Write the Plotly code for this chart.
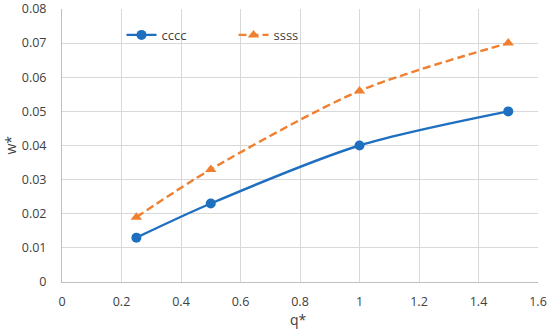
import plotly.graph_objects as go

q = [0.25, 0.5, 1.0, 1.5]
cccc = [0.013, 0.023, 0.040, 0.050]
ssss = [0.019, 0.033, 0.056, 0.070]
x_ticks = [0, 0.2, 0.4, 0.6, 0.8, 1, 1.2, 1.4, 1.6]
x_labels = ["0", "0.2", "0.4", "0.6", "0.8", "1", "1.2", "1.4", "1.6"]
y_ticks = [0, 0.01, 0.02, 0.03, 0.04, 0.05, 0.06, 0.07, 0.08]
y_labels = ["0", "0.01", "0.02", "0.03", "0.04", "0.05", "0.06", "0.07", "0.08"]

fig = go.Figure()
fig.add_trace(go.Scatter(
    x=q, y=cccc, name="cccc", mode="lines+markers",
    line=dict(color="#1f6fc0", width=2.4, shape="spline", smoothing=0.8),
    marker=dict(symbol="circle", size=10, color="#1f6fc0"),
))
fig.add_trace(go.Scatter(
    x=q, y=ssss, name="ssss", mode="lines+markers",
    line=dict(color="#f07f30", width=2.4, dash="8px,4px", shape="spline", smoothing=0.8),
    marker=dict(symbol="triangle-up", size=10, color="#f07f30"),
))

fig.update_layout(
    width=550, height=330,
    margin=dict(l=62, r=12, t=9, b=48, autoexpand=False),
    paper_bgcolor="white", plot_bgcolor="white",
    hovermode=False,
    font=dict(family="Open Sans, Liberation Sans, sans-serif", size=12.5, color="#404040"),
    showlegend=True,
    legend=dict(orientation="h", x=0.125, y=0.905, xanchor="left", yanchor="middle",
                bgcolor="rgba(0,0,0,0)", font=dict(size=13, color="#404040"),
                entrywidth=67, entrywidthmode="pixels", tracegroupgap=0),
    xaxis=dict(range=[0, 1.6], tickvals=x_ticks, ticktext=x_labels,
               showgrid=True, gridcolor="#d9d9d9", gridwidth=1,
               showline=True, linecolor="#bfbfbf", linewidth=1,
               zeroline=False, ticks="", ticklabelstandoff=8, automargin=False),
    yaxis=dict(range=[0, 0.08], tickvals=y_ticks, ticktext=y_labels,
               showgrid=True, gridcolor="#d9d9d9", gridwidth=1,
               showline=True, linecolor="#bfbfbf", linewidth=1,
               zeroline=False, ticks="", ticklabelstandoff=12, automargin=False),
    annotations=[
        dict(text="q*", xref="paper", yref="paper", x=0.497, y=-0.139,
             xanchor="center", yanchor="middle", showarrow=False,
             font=dict(size=14, color="#404040")),
        dict(text="w*", xref="paper", yref="paper", x=-0.109, y=0.5,
             xanchor="center", yanchor="middle", showarrow=False, textangle=-90,
             font=dict(size=14, color="#404040")),
    ],
)

fig.write_html("out.html", config={"displayModeBar": False, "staticPlot": True},
               post_script="document.body.style.margin='0';document.body.style.overflow='hidden';")
